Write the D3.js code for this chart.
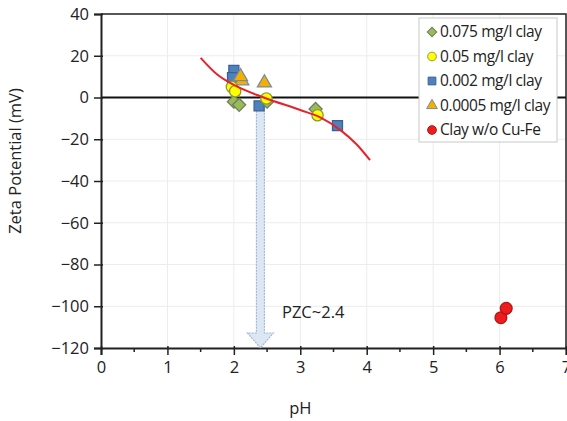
<!DOCTYPE html>
<html>
<head>
<meta charset="utf-8">
<script src="https://cdn.jsdelivr.net/npm/d3@7"></script>
<style>
    body { margin: 0; background: #fff; }
    svg { display: block; font-family: "Open Sans", sans-serif; }
</style>
</head>
<body>
<svg id="zeta-chart"></svg>
<script>
// series (pH, zeta potential in mV)
const diamondPH = [2.0, 2.08, 2.5, 3.23];
const diamondZeta = [-2, -3.5, -2, -5.5];

const circlePH = [1.97, 2.02, 2.49, 3.26];
const circleZeta = [5, 3, -0.5, -8.5];

const squarePH = [2.0, 1.98, 2.38, 3.56];
const squareZeta = [13, 9.5, -4, -13.5];

const trianglePH = [2.12, 2.1, 2.46];
const triangleZeta = [8, 10, 7];

const clayPH = [6.02, 6.1];
const clayZeta = [-105.5, -101];

const fitPH = [1.5, 1.75, 2.0, 2.45, 3.0, 3.3, 3.6, 3.85, 4.05];
const fitZeta = [19, 11, 6, 0, -6, -9.5, -15.5, -22.5, -30];

const xTicks = [0, 1, 2, 3, 4, 5, 6, 7];
const yTicks = [40, 20, 0, -20, -40, -60, -80, -100, -120];

const legendLabels = ["0.075 mg/l clay", "0.05 mg/l clay", "0.002 mg/l clay", "0.0005 mg/l clay", "Clay w/o Cu-Fe"];

const PZC = 2.4;
const PZC_ARROW_TOP = -4;

const WIDTH = 567;
const HEIGHT = 421;
const PADDING = { top: 14, bottom: 73, start: 101, end: 1 };

const svg = d3.select("#zeta-chart")
    .attr("width", WIDTH)
    .attr("height", HEIGHT);

const xScale = d3.scaleLinear()
    .domain([0, 7])
    .range([PADDING.start, WIDTH - PADDING.end]);

const yScale = d3.scaleLinear()
    .domain([-120, 40])
    .range([HEIGHT - PADDING.bottom, PADDING.top]);

// grid
svg.append("g")
    .selectAll("line")
    .data(yTicks)
    .join("line")
        .attr("x1", xScale(0)).attr("x2", xScale(7))
        .attr("y1", d => yScale(d)).attr("y2", d => yScale(d))
        .attr("stroke", "#ececec");

svg.append("g")
    .selectAll("line")
    .data(xTicks)
    .join("line")
        .attr("x1", d => xScale(d)).attr("x2", d => xScale(d))
        .attr("y1", yScale(40)).attr("y2", yScale(-120))
        .attr("stroke", "#ececec");

// frame top/right
svg.append("path")
    .attr("d", `M${xScale(0)},${yScale(40)}H${xScale(7)}V${yScale(-120)}`)
    .attr("fill", "none")
    .attr("stroke", "#222")
    .attr("stroke-width", 1.5);

// zero line
svg.append("line")
    .attr("x1", xScale(0)).attr("x2", xScale(7))
    .attr("y1", yScale(0)).attr("y2", yScale(0))
    .attr("stroke", "#111")
    .attr("stroke-width", 2);

// minor x ticks
svg.append("g")
    .selectAll("line")
    .data(d3.range(0.5, 7, 1))
    .join("line")
        .attr("x1", d => xScale(d)).attr("x2", d => xScale(d))
        .attr("y1", yScale(-120)).attr("y2", yScale(-120) + 4)
        .attr("stroke", "#222")
        .attr("stroke-width", 1.5);

let xAxis = d3.axisBottom(xScale)
    .tickValues(xTicks)
    .tickSize(7)
    .tickPadding(6)
    .tickFormat(d3.format("d"));
let xAxisGroup = svg.append("g")
    .attr("transform", `translate(0, ${yScale(-120)})`)
    .call(xAxis);

let yAxis = d3.axisLeft(yScale)
    .tickValues(yTicks)
    .tickSize(7)
    .tickPadding(5);
let yAxisGroup = svg.append("g")
    .attr("transform", `translate(${xScale(0)}, 0)`)
    .call(yAxis);

[xAxisGroup, yAxisGroup].forEach(g => {
    g.select(".domain").attr("stroke", "#222").attr("stroke-width", 2);
    g.selectAll(".tick line").attr("stroke", "#222").attr("stroke-width", 1.5);
    g.selectAll(".tick text")
        .attr("font-family", "Open Sans, sans-serif")
        .attr("font-size", "16.5px")
        .attr("fill", "#222");
});
xAxisGroup.selectAll(".tick line").attr("y1", -2);
yAxisGroup.selectAll(".tick line").attr("x1", 2);

// axis titles
svg.append("text")
    .attr("x", xScale(3))
    .attr("y", 414)
    .attr("text-anchor", "middle")
    .attr("font-size", "16.5px")
    .attr("fill", "#222")
    .text("pH");

svg.append("text")
    .attr("transform", "rotate(-90)")
    .attr("x", -161)
    .attr("y", 21)
    .attr("text-anchor", "middle")
    .attr("font-size", "16.5px")
    .attr("fill", "#222")
    .text("Zeta Potential (mV)");

// PZC arrow
const ax = xScale(PZC);
const aTop = yScale(PZC_ARROW_TOP);
const aBottom = yScale(-120);
const headTop = aBottom - 15;
svg.append("path")
    .attr("d", `M${ax - 4},${aTop}H${ax + 4}V${headTop}H${ax + 13}L${ax},${aBottom}L${ax - 13},${headTop}H${ax - 4}Z`)
    .attr("fill", "#dde7f3")
    .attr("stroke", "#9fb8d8")
    .attr("stroke-width", 1.2)
    .attr("stroke-dasharray", "2,1");

svg.append("text")
    .attr("x", 282)
    .attr("y", 318)
    .attr("font-size", "16.5px")
    .attr("fill", "#222")
    .text("PZC~" + PZC);

// markers
const toPoints = (xs, ys) => xs.map((x, i) => ({ ph: x, zeta: ys[i] }));

const SHAPES = {
    square: { type: d3.symbolSquare, size: 100, rotate: 0, fill: "#4f81bd", stroke: "#3a6196" },
    diamond: { type: d3.symbolSquare, size: 85, rotate: 45, fill: "#9bbb59", stroke: "#6c7f5a" },
    triangle: { type: d3.symbolTriangle, size: 85, rotate: 0, fill: "#f2b000", stroke: "#7c8aa0" },
    circle: { type: d3.symbolCircle, size: 100, rotate: 0, fill: "#ffff00", stroke: "#8a9a3a" },
    clay: { type: d3.symbolCircle, size: 110, rotate: 0, fill: "#ee1c1c", stroke: "#b01818" }
};

function drawSeries(points, shape) {
    const s = SHAPES[shape];
    svg.append("g")
        .selectAll("path")
        .data(points)
        .join("path")
            .attr("transform", d => `translate(${xScale(d.ph)}, ${yScale(d.zeta)}) rotate(${s.rotate})`)
            .attr("d", d3.symbol().type(s.type).size(s.size))
            .attr("fill", s.fill)
            .attr("stroke", s.stroke)
            .attr("stroke-width", 1.3);
}

drawSeries(toPoints(squarePH, squareZeta), "square");
drawSeries(toPoints(diamondPH, diamondZeta), "diamond");
drawSeries(toPoints(trianglePH, triangleZeta), "triangle");
drawSeries(toPoints(circlePH, circleZeta), "circle");
drawSeries(toPoints(clayPH, clayZeta), "clay");

// fitted trend
svg.append("path")
    .datum(toPoints(fitPH, fitZeta))
    .attr("d", d3.line()
        .x(d => xScale(d.ph))
        .y(d => yScale(d.zeta))
        .curve(d3.curveMonotoneX))
    .attr("fill", "none")
    .attr("stroke", "#e8222a")
    .attr("stroke-width", 2);

// legend
const legend = svg.append("g").attr("transform", "translate(419, 18)");
legend.append("rect")
    .attr("width", 138)
    .attr("height", 124)
    .attr("fill", "#fff")
    .attr("stroke", "#c8c8c8");

const legendShapes = ["diamond", "circle", "square", "triangle", "clay"];
const legendSizes = [45, 60, 60, 50, 60];
legendLabels.forEach((label, i) => {
    const s = SHAPES[legendShapes[i]];
    const row = legend.append("g").attr("transform", `translate(13, ${14 + i * 24.5})`);
    row.append("path")
        .attr("transform", `rotate(${s.rotate})`)
        .attr("d", d3.symbol().type(s.type).size(legendSizes[i]))
        .attr("fill", s.fill)
        .attr("stroke", s.stroke)
        .attr("stroke-width", 1);
    row.append("text")
        .attr("x", 8)
        .attr("dy", "0.35em")
        .attr("font-size", "15.5px")
        .attr("letter-spacing", "-0.4px")
        .attr("fill", "#222")
        .text(label);
});
</script>
</body>
</html>
